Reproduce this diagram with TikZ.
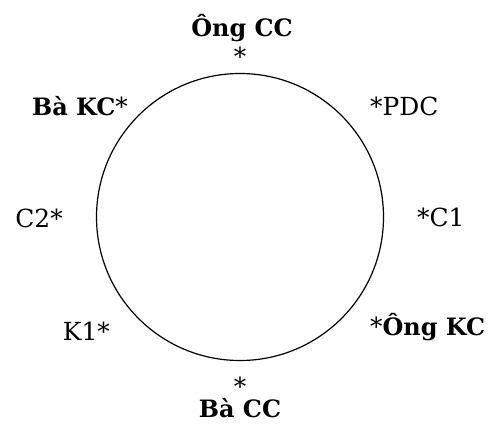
\documentclass[tikz,border=0pt]{standalone}
\usepackage{fontspec}
\setmainfont{DejaVu Serif}
\usetikzlibrary{positioning}

\begin{document}
\begin{tikzpicture}[x=1bp,y=-1bp,
   ring/.style={draw,line width=1.2bp,circle,minimum size=287bp,inner sep=0pt},
   lbl/.style={inner sep=0pt,font=\fontsize{25}{30}\selectfont},
   who/.style={lbl,font=\fontsize{24}{29}\selectfont\bfseries}]
  \useasboundingbox (0,0) rectangle (495,423);
  \node[ring] (R) at (240,217) {};
  % top and bottom
  \node[who,anchor=base] (OCC) at (242,36) {Ông CC};
  \node[lbl,anchor=base] (sOCC) at (240,65) {*};
  \node[lbl,anchor=base] (sBCC) at (240,395) {*};
  \node[who,anchor=base] (BCC) at (240,417) {Bà CC};
  % left side
  \node[lbl,anchor=base east] (BKC) at (128,115) {{\fontsize{24}{29}\selectfont\bfseries Bà KC}*};
  \node[lbl,anchor=base east] (C2) at (63,227) {C2*};
  \node[lbl,anchor=base east] (K1) at (110,340) {K1*};
  % right side
  \node[lbl,anchor=base west] (PDC) at (370,115) {*PDC};
  \node[lbl,anchor=base west] (C1) at (417,226) {*C1};
  \node[lbl,anchor=base west] (OKC) at (370,335) {*{\fontsize{24}{29}\selectfont\bfseries Ông KC}};
\end{tikzpicture}
\end{document}
